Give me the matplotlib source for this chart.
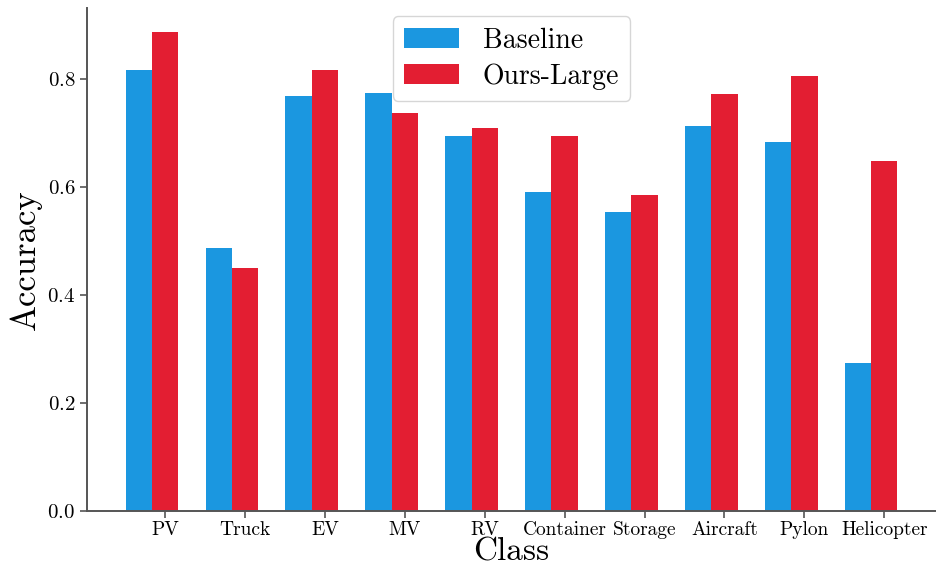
import numpy as np
from matplotlib import pyplot as plt

classes = ['PV', 'Truck', 'EV', 'MV', 'RV', 'Container', 'Storage',
           'Aircraft', 'Pylon', 'Helicopter']
baseline = [0.817, 0.487, 0.770, 0.774, 0.695, 0.592, 0.555, 0.713, 0.684, 0.275]
ours_large = [0.888, 0.450, 0.818, 0.737, 0.710, 0.695, 0.585, 0.772, 0.807, 0.648]

plt.rcParams['font.family'] = 'cmr10'
plt.rcParams['axes.formatter.use_mathtext'] = True

width = 0.33
x = np.arange(len(classes))

fig = plt.figure(figsize=(9.36, 5.67), dpi=100)
ax = fig.add_axes([0.093, 0.099, 0.907, 0.887])

ax.bar(x, baseline, width, color='#1b97e0', label='Baseline')
ax.bar(x + width, ours_large, width, color='#e31e32', label='Ours-Large')

ax.set_xticks(x + width)
ax.set_xticklabels(classes, fontsize=14)
ax.tick_params(axis='y', labelsize=15)
ax.tick_params(colors='#555555', labelcolor='black', width=1.2, length=5)
ax.tick_params(axis='x', pad=2.5)

ax.set_xlabel('Class', fontsize=24, labelpad=-1)
ax.set_ylabel('Accuracy', fontsize=25)

for side in ['top', 'right']:
    ax.spines[side].set_visible(False)
for side in ['left', 'bottom']:
    ax.spines[side].set_color('#555555')
    ax.spines[side].set_linewidth(1.4)

ax.legend(loc='upper center', fontsize=20, frameon=True, borderpad=0.4,
          labelspacing=0.35, handlelength=2.0, handletextpad=0.85,
          borderaxespad=0.3)

fig.savefig('out.png', dpi=100)
